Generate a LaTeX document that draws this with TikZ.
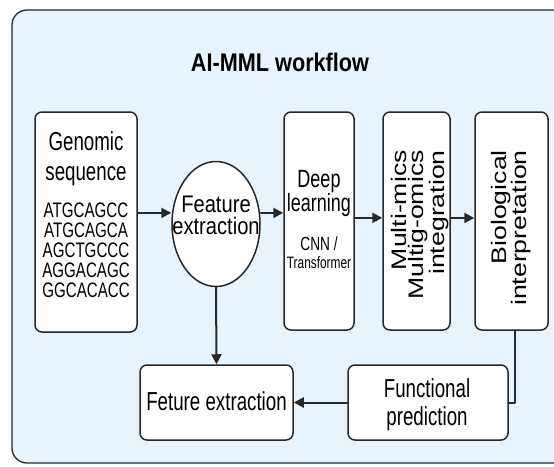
\documentclass[tikz,border=0pt]{standalone}
\usepackage{fontspec}
\setmainfont{Liberation Sans}
\newfontfamily\condfont[FakeStretch=0.72]{Liberation Sans}
\newfontfamily\ovalfont[FakeStretch=0.84]{Liberation Sans}
\newfontfamily\seqfont[FakeStretch=0.72]{Liberation Sans}
\newfontfamily\widefont[FakeStretch=1.27]{Liberation Sans}
\newfontfamily\titlefont[FakeStretch=0.85]{Liberation Sans}
\usetikzlibrary{arrows.meta,shapes.geometric,positioning}
\definecolor{panelblue}{RGB}{232,244,253}
\definecolor{inkgray}{RGB}{40,40,40}

\begin{document}
\begin{tikzpicture}[x=1pt,y=-1pt,line cap=round,line join=round,
  every node/.style={inner sep=0pt},
  box/.style={draw=inkgray,line width=1.5pt,fill=white,rounded corners=7pt},
  flow/.style={draw=inkgray,line width=2pt,-{Triangle[length=10pt,width=10pt]}},
  lbl/.style={font=\condfont\fontsize{26}{28}\selectfont,anchor=base},
  seqtxt/.style={font=\seqfont\fontsize{21}{20}\selectfont,anchor=base},
  vlbl/.style={font=\widefont\fontsize{21}{17.5}\selectfont,rotate=90,align=right,anchor=east}]
  \useasboundingbox (0,0) rectangle (554,466);
  \clip (0,0) rectangle (554,466);
  % panel
  \draw[draw=inkgray,line width=1.3pt,fill=panelblue,rounded corners=15pt] (12,10) rectangle (580,463);
  \node[anchor=base,font=\titlefont\bfseries\fontsize{25.5}{30}\selectfont] (title) at (280,71) {AI-MML workflow};
  % top row
  \node[box,minimum width=102pt,minimum height=220pt] (genome) at (86,222) {};
  \node[lbl] (genomelbl) at (86,150) {Genomic};
  \node[lbl] (genomelbl2) at (86,180) {sequence};
  \foreach \s [count=\i] in {ATGCAGCC,ATGCAGCA,AGCTGCCC,AGGACAGC,GGCACACC}
    \node[seqtxt] (seq\i) at (86,197+20*\i) {\s};
  \node[draw=inkgray,line width=1.5pt,fill=white,ellipse,minimum width=88pt,minimum height=125pt] (feat) at (216,224) {};
  \node[lbl,font=\ovalfont\fontsize{24}{28}\selectfont] (featlbl) at (216,212) {Feature};
  \node[lbl,font=\ovalfont\fontsize{24}{28}\selectfont] (featlbl2) at (216,234) {extraction};
  \node[box,minimum width=70pt,minimum height=218pt] (deep) at (319,221) {};
  \node[lbl,font=\condfont\fontsize{25}{28}\selectfont] (deeplbl) at (319,187) {Deep};
  \node[lbl,font=\condfont\fontsize{25}{28}\selectfont] (deeplbl2) at (319,211) {learning};
  \node[lbl,font=\condfont\fontsize{19}{20}\selectfont] (cnnlbl) at (319,250) {CNN /};
  \node[lbl,font=\condfont\fontsize{16.5}{18}\selectfont] (cnnlbl2) at (319,268) {Transformer};
  \node[box,minimum width=67pt,minimum height=218pt] (multi) at (416.5,221) {};
  \node[vlbl] (multilbl) at (420,150) {Multi-mics\\Multig-omics\\integration};
  \node[box,minimum width=73pt,minimum height=218pt] (bio) at (511.5,221) {};
  \node[vlbl,font=\widefont\fontsize{21}{18}\selectfont] (biolbl) at (511,150) {Biological\\interpretation};
  % bottom row
  \node[box,minimum width=153pt,minimum height=75pt] (feture) at (216.5,402.5) {};
  \node[lbl] (feturelbl) at (216.5,410) {Feture extraction};
  \node[box,minimum width=160pt,minimum height=75pt] (func) at (428,402.5) {};
  \node[lbl,font=\condfont\fontsize{26}{28}\selectfont] (funclbl) at (427,397) {Functional};
  \node[lbl,font=\condfont\fontsize{26}{28}\selectfont] (funclbl2) at (427,425) {prediction};
  % arrows
  \draw[flow] (genome.10) -- (genome.10 -| feat.west);
  \draw[flow] (feat.east |- genome.10) -- (genome.10 -| deep.west);
  \draw[flow] (deep.5) -- (deep.5 -| multi.west);
  \draw[flow] (multi.5) -- (multi.5 -| bio.west);
  \draw[flow] (feat.south) -- (feture.north);
  \draw[draw=inkgray,line width=2pt] (bio.-88) |- (func.east);
  \draw[flow] (func.west) -- (feture.east);
\end{tikzpicture}
\end{document}
